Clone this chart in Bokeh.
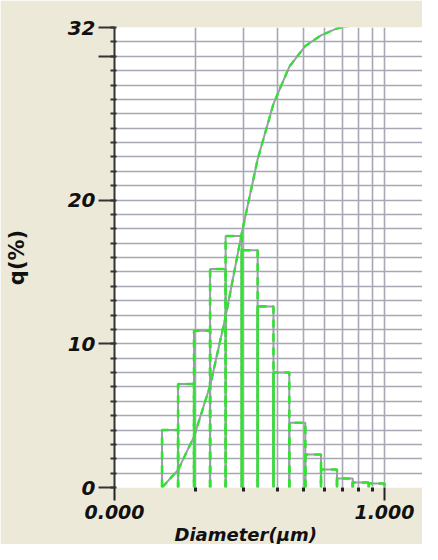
from bokeh.plotting import figure
from bokeh.models import Range1d, FixedTicker, Title
from bokeh.embed import file_html
from bokeh.resources import INLINE

# ---- data ----
bin_edges = [0.150, 0.172, 0.197, 0.226, 0.258, 0.296, 0.339, 0.388,
             0.444, 0.509, 0.582, 0.667, 0.763, 0.874, 1.000]
q_percent = [4.0, 7.2, 10.9, 15.2, 17.5, 16.5, 12.6, 8.0,
             4.5, 2.3, 1.25, 0.63, 0.35, 0.28]
cum_percent = [0.0, 3.8, 11.0, 22.0, 37.0, 55.0, 71.0, 83.0,
               91.0, 95.5, 97.8, 99.3, 100.0, 100.0, 100.0]
x_major_ticks = [0.1, 1.0]
x_major_labels = ["0.000", "1.000"]
x_minor_ticks = [0.2, 0.3, 0.4, 0.5, 0.6, 0.7, 0.8, 0.9]
y_major_ticks = [0, 10, 20, 30, 32]
y_major_labels = ["0", "10", "20", "", "32"]
y_grid_ticks = list(range(0, 33))

GREEN = "#35e035"
GRAY = "#9c9cac"
GRID = "#a8a8b4"
BEIGE = "#ECE9D8"
FONT = "DejaVu Sans"

p = figure(width=422, height=544, x_axis_type="log",
           x_range=Range1d(0.1, 1.383), y_range=Range1d(0, 32),
           output_backend="svg", toolbar_location=None,
           min_border_left=114, min_border_right=0,
           min_border_top=27, min_border_bottom=57)
p.border_fill_color = BEIGE
p.background_fill_color = "white"
p.outline_line_color = None

# grids
p.xgrid.ticker = FixedTicker(ticks=x_minor_ticks + [1.0])
p.ygrid.ticker = FixedTicker(ticks=y_grid_ticks)
for g in (p.xgrid, p.ygrid):
    g.grid_line_color = GRID
    g.grid_line_width = 1.6

# histogram bars (outline only, no base line)
xs = [[l, l, r, r] for l, r in zip(bin_edges[:-1], bin_edges[1:])]
ys = [[0, h, h, 0] for h in q_percent]
p.multi_line(xs, ys, line_color=GRAY, line_width=2)
p.multi_line(xs, ys, line_color=GREEN, line_width=2.6, line_dash="8 6")

# cumulative curve on its own 0-100 scale
p.extra_y_ranges = {"cum": Range1d(0, 99.5)}
p.line(bin_edges, cum_percent, y_range_name="cum", line_color=GRAY, line_width=2)
p.line(bin_edges, cum_percent, y_range_name="cum", line_color=GREEN,
       line_width=2.4, line_dash="7 5")

# x axis
xa = p.xaxis[0]
xa.ticker = FixedTicker(ticks=x_major_ticks, minor_ticks=x_minor_ticks)
xa.major_label_overrides = dict(zip(x_major_ticks, x_major_labels))
xa.axis_line_color = None
xa.major_tick_out = 13
xa.major_tick_in = 0
xa.major_tick_line_width = 2
xa.major_tick_line_color = "#222222"
xa.minor_tick_out = 4
xa.minor_tick_in = 0
xa.minor_tick_line_width = 3
xa.minor_tick_line_color = "#222222"
xa.major_label_standoff = 4
xa.major_label_text_font = FONT
xa.major_label_text_font_size = "19px"
xa.major_label_text_font_style = "bold italic"
xa.major_label_text_color = "#111111"

# y axis
ya = p.yaxis[0]
ya.ticker = FixedTicker(ticks=y_major_ticks, minor_ticks=y_grid_ticks)
ya.major_label_overrides = dict(zip(y_major_ticks, y_major_labels))
ya.axis_line_width = 2
ya.axis_line_color = "#333333"
ya.major_tick_out = 16
ya.major_tick_in = 0
ya.major_tick_line_width = 2
ya.major_tick_line_color = "#333333"
ya.minor_tick_out = 4
ya.minor_tick_in = 2
ya.minor_tick_line_width = 2
ya.minor_tick_line_color = "#333333"
ya.major_label_standoff = 3
ya.major_label_text_font = FONT
ya.major_label_text_font_size = "20px"
ya.major_label_text_font_style = "bold italic"
ya.major_label_text_color = "#111111"
ya.axis_label = "q(%)"
ya.axis_label_text_font = FONT
ya.axis_label_text_font_size = "21px"
ya.axis_label_text_font_style = "bold"
ya.axis_label_text_color = "#111111"
ya.axis_label_standoff = 36

# x axis title
p.add_layout(Title(text="Diameter(μm)", align="left", offset=60, standoff=0,
                   text_font=FONT, text_font_size="18px",
                   text_font_style="bold italic", text_color="#111111"),
             "below")

open("out.html", "w").write(file_html(p, INLINE))
